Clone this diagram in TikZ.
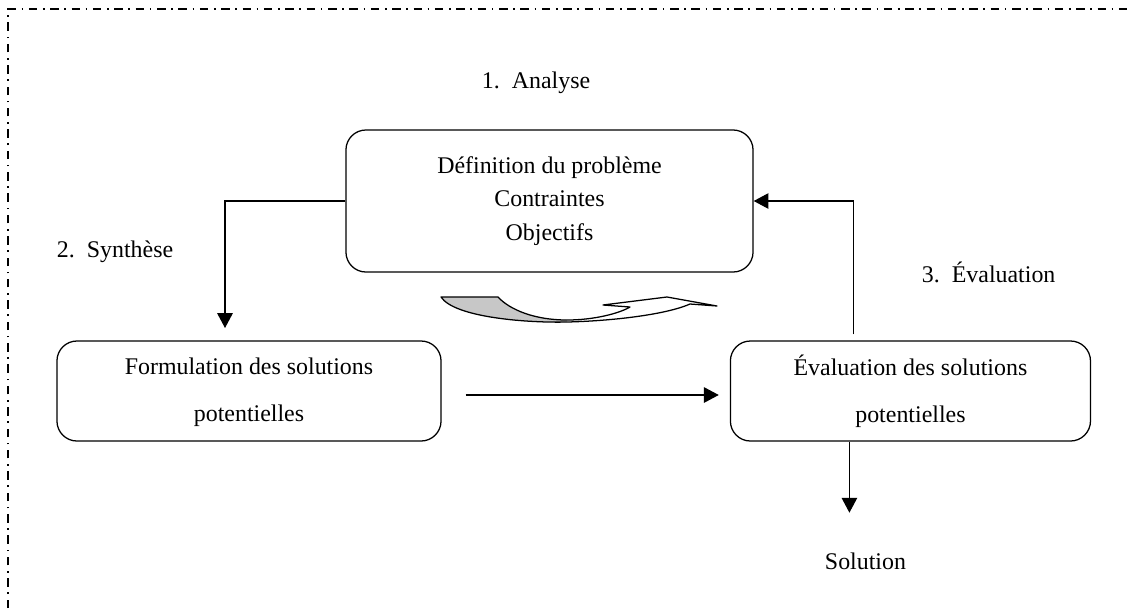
\documentclass[tikz,border=0pt]{standalone}
\usepackage{fontspec}
\setmainfont{Liberation Serif}
\usetikzlibrary{positioning,arrows.meta}

\begin{document}
\begin{tikzpicture}[x=0.025cm,y=-0.025cm,
% styles
every node/.style={font=\fontsize{17}{20}\selectfont},
procbox/.style={rectangle, rounded corners=0.5cm, draw, line width=0.9pt, align=center, minimum height=2.5cm},
phase/.style={anchor=base west},
flow/.style={-{Triangle[length=10.5pt,width=11pt]}, line width=0.8pt},
]
\useasboundingbox (0,0) rectangle (1132,608);
% frame
\draw[line width=1pt, dash pattern=on 6pt off 4pt on 1.2pt off 4pt] (8,608) -- (8,9) -- (1132,9);

%Nodes
\node[procbox, minimum width=10.175cm, minimum height=3.55cm] (analyse) at (549.5,201) {Définition du problème\\[3.6pt]Contraintes\\[3.6pt]Objectifs};
\node[procbox, minimum width=9.6cm] (form) at (249,391) {\strut Formulation des solutions\\[13.4pt]potentielles};
\node[procbox, minimum width=9cm] (eval) [right=7.2cm of form] {\strut Évaluation des solutions\\[13.4pt]potentielles};

\node[phase] (analyseLbl) at (477,88) {1.\ \ Analyse};
\node[phase] (syntheseLbl) at (52,257) {2.\ \ Synthèse};
\node[phase] (evalLbl) at (917,282) {3.\ \ Évaluation};
\node[phase] (solution) at (820,569) {Solution};

\coordinate (synEnd) at (225,328);
\coordinate (solEnd) at ([shift={(-1.525cm,-1.775cm)}]eval.south);

%Lines
\draw[flow] (analyse.west) -| (synEnd);
\draw[flow] ([shift={(0.6cm,-0.1cm)}]form.east) -- ([shift={(-0.275cm,-0.1cm)}]eval.west);
\draw[flow] ([shift={(-1.425cm,0.15cm)}]eval.north) |- (analyse.east);
\draw[flow] ([xshift=-1.525cm]eval.south) -- (solEnd);

% curved arrow
\fill[black!22] (441,297) -- (498,297) .. controls (510,310) and (535,320) .. (567,320) -- (567,322) .. controls (530,323) and (455,318) .. (441,297) -- cycle;
\draw[line width=0.9pt, line join=round] (441,297) -- (498,297) .. controls (510,310) and (535,320) .. (567,320) .. controls (595,320) and (620,313) .. (630,307) -- (603,305) -- (667,297) -- (717,306) -- (690,304) .. controls (665,315) and (610,321) .. (567,322) .. controls (530,323) and (455,318) .. (441,297) -- cycle;

\end{tikzpicture}
\end{document}
